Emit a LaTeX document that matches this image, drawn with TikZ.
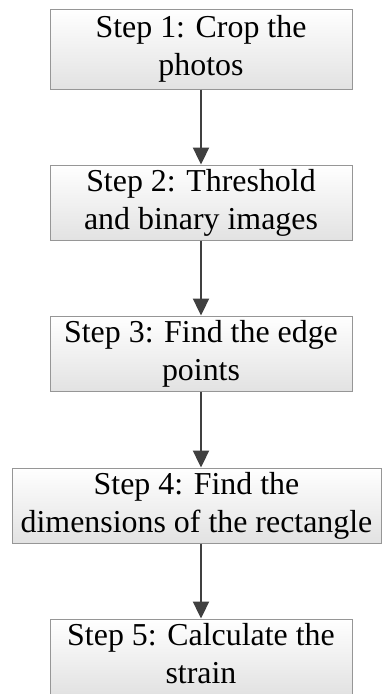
\documentclass[tikz,border=0pt]{standalone}
\usepackage{fontspec}
\setmainfont{Liberation Serif}
\usetikzlibrary{arrows.meta}
\definecolor{boxline}{RGB}{150,150,150}
\definecolor{boxbottom}{RGB}{226,226,226}
\definecolor{arrowgray}{RGB}{64,64,64}
\tikzset{
  stepbox/.style={draw=boxline, line width=1pt, top color=white, bottom color=boxbottom,
    minimum width=302pt, minimum height=75pt, inner sep=0pt, align=center,
    text depth=7pt, font=\fontsize{31.9}{38}\selectfont},
  flow/.style={draw=arrowgray, line width=2.3pt, -{Triangle[width=16pt,length=17pt]}}
}
\begin{document}
\begin{tikzpicture}[x=1pt, y=-1pt]
  \clip (0,0) rectangle (382,694);
  \fill[white] (0,0) rectangle (382,694);
  % process steps
  \node[stepbox, minimum height=80pt] (s1) at (201,49) {Step 1: Crop the\\photos};
  \node[stepbox] (s2) at (201,202.5) {Step 2: Threshold\\and binary images};
  \node[stepbox] (s3) at (201,353.5) {Step 3: Find the edge\\points};
  \node[stepbox, minimum width=369pt] (s4) at (196.5,505.5) {Step 4: Find the\\dimensions of the rectangle};
  \node[stepbox] (s5) at (201,656.5) {Step 5: Calculate the\\strain};
  % connectors
  \draw[flow] (s1.south) -- (s2.north);
  \draw[flow] (s2.south) -- (s3.north);
  \draw[flow] (s3.south) -- (s3.south |- s4.north);
  \draw[flow] (s4.south -| s5.north) -- (s5.north);
\end{tikzpicture}
\end{document}
